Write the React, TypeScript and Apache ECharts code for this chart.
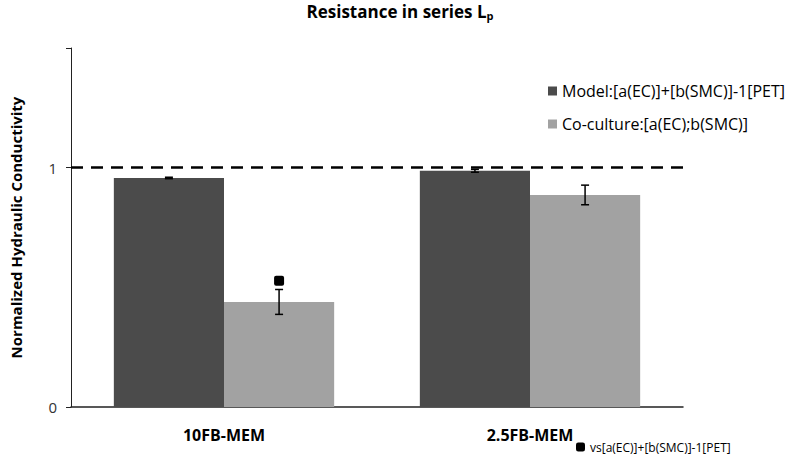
import React, { useEffect, useRef } from "react";
import * as echarts from "echarts";

const categories = ["10FB-MEM", "2.5FB-MEM"];
const modelName = "Model:[a(EC)]+[b(SMC)]-1[PET]";
const cocultureName = "Co-culture:[a(EC);b(SMC)]";
const vsName = "vs[a(EC)]+[b(SMC)]-1[PET]";
const modelValues = [0.957, 0.987];
const modelErr = [0.003, 0.006];
const cocultureValues = [0.439, 0.886];
const cocultureErr = [0.052, 0.041];
const vsValues = [0.528, null];
const yTicks = [0, 1];

const FONT = "'Open Sans', 'Noto Sans', sans-serif";

function errorSeries(values: number[], errs: number[], sign: number) {
  return {
    type: "custom",
    silent: true,
    z: 5,
    data: values.map((v, i) => [i, v - errs[i], v + errs[i]]),
    renderItem: (params: any, api: any) => {
      const x = api.value(0);
      const lo = api.coord([x, api.value(1)]);
      const hi = api.coord([x, api.value(2)]);
      const bw = api.size([1, 0])[0];
      const cx = lo[0] + sign * bw * 0.18;
      const cap = 4;
      const style = { stroke: "#000", lineWidth: 1.5 };
      return {
        type: "group",
        children: [
          { type: "line", shape: { x1: cx, y1: lo[1], x2: cx, y2: hi[1] }, style },
          { type: "line", shape: { x1: cx - cap, y1: lo[1], x2: cx + cap, y2: lo[1] }, style },
          { type: "line", shape: { x1: cx - cap, y1: hi[1], x2: cx + cap, y2: hi[1] }, style },
        ],
      };
    },
  };
}

export default function App() {
  const ref = useRef<HTMLDivElement>(null);
  useEffect(() => {
    const chart = echarts.init(ref.current!, null, { renderer: "svg" });
    chart.setOption({
      animation: false,
      backgroundColor: "#fff",
      title: {
        text: "{a|Resistance in series L}{b|p}",
        left: "center",
        top: -4,
        textStyle: {
          rich: {
            a: { fontFamily: FONT, fontWeight: "bold", fontSize: 17, color: "#000" },
            b: { fontFamily: FONT, fontWeight: "bold", fontSize: 11, color: "#000", padding: [9, 0, 0, 0] },
          },
        },
      },
      legend: [
        {
          data: [modelName, cocultureName],
          orient: "vertical",
          left: 543,
          top: 78,
          itemWidth: 9,
          itemHeight: 9,
          itemGap: 17,
          icon: "rect",
          textStyle: { fontFamily: FONT, fontSize: 16, color: "#000" },
        },
        {
          data: [{ name: vsName, icon: "roundRect" }],
          left: 576,
          top: 440,
          padding: 0,
          itemWidth: 9,
          itemHeight: 9,
          itemGap: 4,
          textStyle: { fontFamily: FONT, fontSize: 12, lineHeight: 14, color: "#000" },
        },
      ],
      grid: { left: 63, right: 117, top: 48, bottom: 50 },
      xAxis: {
        type: "category",
        data: categories,
        axisLine: { lineStyle: { color: "#222", width: 1.5 } },
        axisTick: { show: false },
        axisLabel: { fontFamily: FONT, fontWeight: "bold", fontSize: 16, color: "#000", margin: 20 },
      },
      yAxis: {
        type: "value",
        min: 0,
        max: 1.5,
        interval: 1,
        name: "Normalized Hydraulic Conductivity",
        nameLocation: "middle",
        nameGap: 48,
        nameTextStyle: { fontFamily: FONT, fontWeight: "bold", fontSize: 15, color: "#000" },
        splitLine: { show: false },
        axisLine: { show: true, lineStyle: { color: "#222", width: 1 } },
        axisTick: { show: true, length: 5, lineStyle: { color: "#222" } },
        axisLabel: {
          fontFamily: FONT,
          fontSize: 15,
          color: "#333",
          margin: 14,
          formatter: (v: number) => (yTicks.includes(v) ? String(v) : ""),
        },
      },
      series: [
        {
          name: modelName,
          type: "bar",
          data: modelValues,
          barWidth: "36%",
          barGap: "0%",
          itemStyle: { color: "#4b4b4b" },
          markLine: {
            silent: true,
            symbol: "none",
            label: { show: false },
            lineStyle: { color: "#000", width: 2.5, type: [12, 8] },
            data: [{ yAxis: 1 }],
          },
        },
        {
          name: cocultureName,
          type: "bar",
          data: cocultureValues,
          barWidth: "36%",
          barGap: "0%",
          itemStyle: { color: "#a2a2a2" },
        },
        errorSeries(modelValues, modelErr, -1),
        errorSeries(cocultureValues, cocultureErr, 1),
        {
          name: vsName,
          type: "custom",
          z: 6,
          itemStyle: { color: "#000" },
          data: vsValues.map((v, i) => [i, v]).filter((d) => d[1] !== null),
          renderItem: (params: any, api: any) => {
            const p = api.coord([api.value(0), api.value(1)]);
            const bw = api.size([1, 0])[0];
            const cx = p[0] + bw * 0.18;
            const s = 10;
            return {
              type: "rect",
              shape: { x: cx - s / 2, y: p[1] - s / 2, width: s, height: s, r: 2 },
              style: { fill: "#000" },
            };
          },
        },
      ],
    });
    return () => chart.dispose();
  }, []);
  return <div ref={ref} style={{ width: 800, height: 457, position: "absolute", left: 0, top: 0 }} />;
}
